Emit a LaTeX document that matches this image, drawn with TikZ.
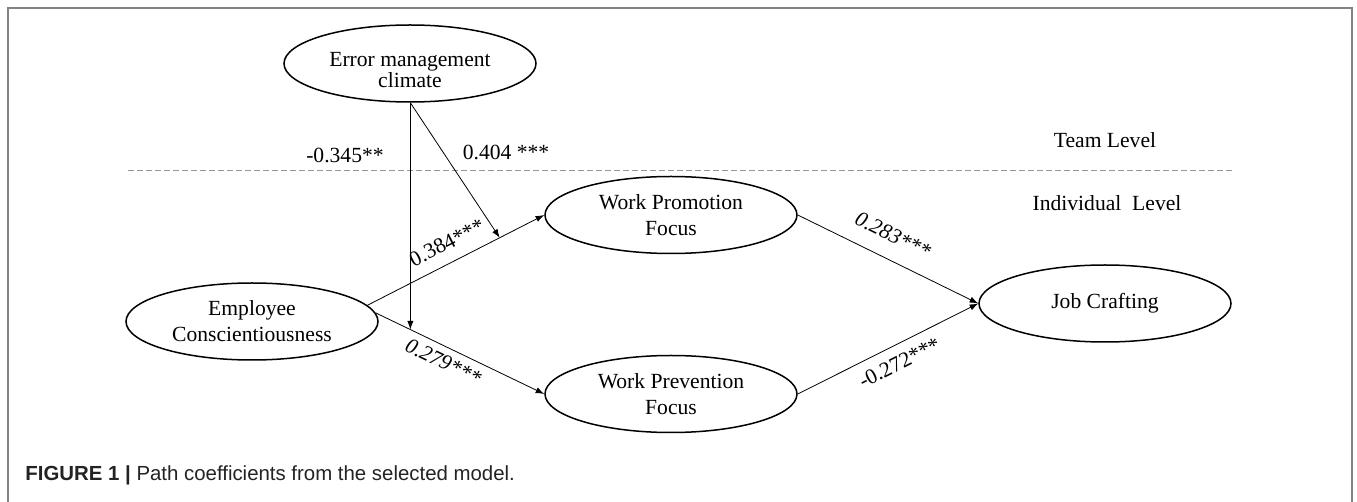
\documentclass[tikz,border=0pt]{standalone}
\usepackage{fontspec}
\setmainfont{Liberation Serif}
\newfontfamily\capfont{Liberation Sans}
\usetikzlibrary{shapes.geometric,arrows.meta}
\definecolor{framegray}{RGB}{130,130,130}
\definecolor{dashgray}{RGB}{150,150,150}
\definecolor{capgray}{RGB}{35,35,35}
\newcommand\diagfont{\fontsize{10.8}{13}\selectfont}

\begin{document}
\begin{tikzpicture}[x=0.5pt,y=-0.5pt,
    latent/.style={draw,ellipse,line width=0.75pt,minimum width=126pt,
      minimum height=38.5pt,inner sep=0pt,align=center,font=\diagfont},
    effect/.style={draw,line width=0.4pt,-{Latex[length=4.3pt,width=3.1pt]}},
    coef/.style={font=\diagfont,inner sep=2pt},
    level/.style={font=\diagfont,inner sep=0pt}]
    \useasboundingbox (0,0) rectangle (1357,502);

    % frame, open at the bottom
    \draw[framegray,line width=0.7pt] (8,502) -- (8,8) -- (1352,8) -- (1352,502);

    % latent variables
    \node[latent] (emc)  at (410,63.5)  {};
    \node[level,align=center] (emctext) at ([yshift=-3.5pt]emc.center)
      {Error management\\[-2.5pt]climate};
    \node[latent] (ec)   at (252,321.5) {Employee\\Conscientiousness};
    \node[latent] (wpro) at (671,215)   {Work Promotion\\Focus};
    \node[latent] (wpre) at (671,394)   {Work Prevention\\Focus};
    \node[latent] (jc)   at (1105,303.5) {Job Crafting};

    % team level / individual level
    \coordinate (dashL) at (128,171);
    \coordinate (dashR) at (1232,171);
    \draw[dashgray,line width=0.5pt,dash pattern=on 3pt off 1.5pt]
      (dashL) -- (dashR);
    \node[level] (team)  at (1105,140) {Team Level};
    \node[level] (indiv) at (1107,203) {Individual\ \ Level};

    % main paths
    \draw[effect] (ec.8) --
      node[coef,pos=0.5,sloped,above=4pt] {0.384***}
      coordinate[pos=0.748] (modA) (wpro.west);
    \draw[effect] (ec.4) --
      node[coef,pos=0.44,sloped,below=1.5pt] {\itshape 0.279***}
      coordinate[pos=0.206] (modB) (wpre.west);
    \draw[effect] (wpro.east) --
      node[coef,pos=0.47,sloped,above=6pt] {\itshape 0.283***} (jc.west);
    \draw[effect] (wpre.east) --
      node[coef,pos=0.52,sloped,below=3pt] {-0.272***} (jc.west);

    % moderation by error management climate
    \draw[effect] (emc.south -| modB) -- (modB);
    \draw[effect] (emc.south -| modB) -- (modA);
    \node[coef] (modBval) at (345,155) {-0.345**};
    \node[coef] (modAval) at (506,152) {0.404 ***};

    % caption
    \node[anchor=west,inner sep=0pt,text=capgray,
      font=\capfont\fontsize{10.2}{12}\selectfont] (caption) at (25,475)
      {\textbf{FIGURE 1 |} Path coefficients from the selected model.};
\end{tikzpicture}
\end{document}
